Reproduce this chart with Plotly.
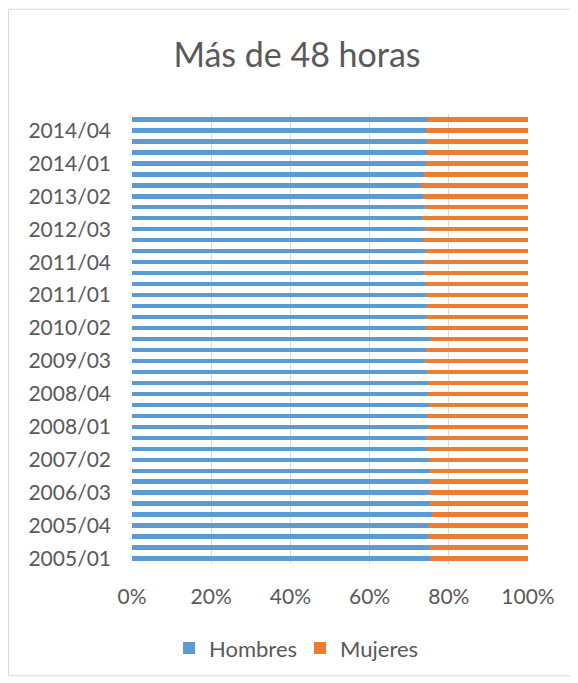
import plotly.graph_objects as go

categories = [
    "2005/01", "2005/02", "2005/03", "2005/04",
    "2006/01", "2006/02", "2006/03", "2006/04",
    "2007/01", "2007/02", "2007/03", "2007/04",
    "2008/01", "2008/02", "2008/03", "2008/04",
    "2009/01", "2009/02", "2009/03", "2009/04",
    "2010/01", "2010/02", "2010/03", "2010/04",
    "2011/01", "2011/02", "2011/03", "2011/04",
    "2012/01", "2012/02", "2012/03", "2012/04",
    "2013/01", "2013/02", "2013/03", "2013/04",
    "2014/01", "2014/02", "2014/03", "2014/04",
    "2015/01",
]

hombres = [75.3, 75.1, 75.1, 74.8, 75.7, 75.3, 75.0, 75.3, 75.3, 75.1,
           74.5, 74.5, 74.7, 74.5, 75.0, 74.8, 74.8, 74.5, 74.0, 74.3,
           75.3, 74.3, 74.3, 74.5, 74.3, 74.2, 73.7, 73.8, 74.2, 73.6,
           74.1, 73.3, 74.1, 73.6, 73.0, 73.8, 74.3, 74.5, 74.5, 74.3,
           74.5]

mujeres = [24.7, 24.9, 24.9, 25.2, 24.3, 24.7, 25.0, 24.7, 24.7, 24.9,
           25.5, 25.5, 25.3, 25.5, 25.0, 25.2, 25.2, 25.5, 26.0, 25.7,
           24.7, 25.7, 25.7, 25.5, 25.7, 25.8, 26.3, 26.2, 25.8, 26.4,
           25.9, 26.7, 25.9, 26.4, 27.0, 26.2, 25.7, 25.5, 25.5, 25.7,
           25.5]

y_tick_labels = ["2005/01", "2005/04", "2006/03", "2007/02", "2008/01",
                 "2008/04", "2009/03", "2010/02", "2011/01", "2011/04",
                 "2012/03", "2013/02", "2014/01", "2014/04"]

x_tick_vals = [0, 20, 40, 60, 80, 100]
x_tick_text = ["0%", "20%", "40%", "60%", "80%", "100%"]

FONT = "Lato, Carlito, Calibri, sans-serif"
TXT = "#595959"

fig = go.Figure()
fig.add_trace(go.Bar(y=categories, x=hombres, name="Hombres", orientation="h",
                     marker=dict(color="#5B9BD5", line=dict(width=0))))
fig.add_trace(go.Bar(y=categories, x=mujeres, name="Mujeres", orientation="h",
                     marker=dict(color="#ED7D31", line=dict(width=0))))

OFF = 8  # page body margin
W, H = 578 - OFF, 683 - OFF
L, R, T, B = 132 - OFF, 50, 113.5 - OFF, 118.5
pw = W - L - R
ph = H - T - B

def px_x(p):
    return (p - OFF - L) / pw

def px_y(q):
    return (H - B - (q - OFF)) / ph

fig.update_layout(
    width=W, height=H,
    margin=dict(l=L, r=R, t=T, b=B, pad=0),
    paper_bgcolor="white", plot_bgcolor="white",
    barmode="stack", bargap=0.6,
    font=dict(family=FONT, color=TXT, size=21),
    title=dict(text="Más de 48 horas", font=dict(family=FONT, size=34, color=TXT),
               x=(297 - OFF) / W, xref="container", xanchor="center",
               y=1 - (55 - OFF) / H, yref="container", yanchor="middle"),
    xaxis=dict(range=[0, 100], tickvals=x_tick_vals, ticktext=x_tick_text,
               showgrid=True, gridcolor="#D9D9D9", gridwidth=1,
               zeroline=False, showline=False, ticks="",
               tickfont=dict(family=FONT, size=21, color=TXT),
               ticklabelstandoff=18, fixedrange=True),
    yaxis=dict(type="category", categoryorder="array", categoryarray=categories,
               range=[-0.5, len(categories) - 0.5],
               tickvals=y_tick_labels, ticktext=y_tick_labels,
               showgrid=False, zeroline=False, showline=False, ticks="",
               tickfont=dict(family=FONT, size=21, color=TXT),
               ticklabelstandoff=20, fixedrange=True),
    legend=dict(orientation="h", x=px_x(300), xanchor="center",
                y=px_y(649), yanchor="middle", entrywidth=86,
                font=dict(family=FONT, size=22, color=TXT),
                traceorder="normal", itemclick=False),
    shapes=[dict(type="rect", xref="paper", yref="paper",
                 x0=px_x(8.5), x1=px_x(570.5), y0=px_y(676.5), y1=px_y(8.5),
                 line=dict(color="#D9D9D9", width=1), fillcolor="rgba(0,0,0,0)",
                 layer="below")],
)

fig.write_html("out.html")
